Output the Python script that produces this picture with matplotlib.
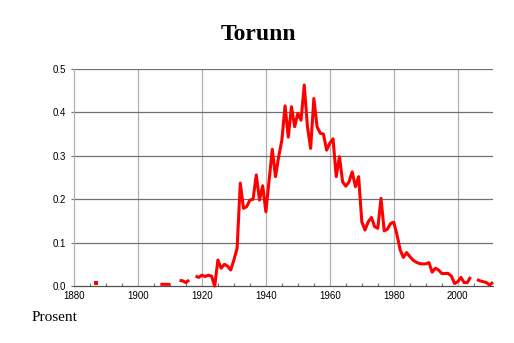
import matplotlib
matplotlib.use("Agg")
import matplotlib.pyplot as plt
import numpy as np

nan = np.nan

# name frequency, per cent, one value per year 1880-2011
years = np.arange(1880, 2012)
values = [
    nan, nan, nan, nan, nan, nan, nan, 0.007, nan, nan,            # 1880-1889
    nan, nan, nan, nan, nan, nan, nan, nan, nan, nan,              # 1890-1899
    nan, nan, nan, nan, nan, nan, nan, 0.004, 0.004, 0.004,        # 1900-1909
    0.004, nan, nan, 0.013, 0.012, 0.008, 0.014, nan, 0.023, 0.020,  # 1910-1919
    0.025, 0.022, 0.025, 0.023, 0.000, 0.060, 0.041, 0.050, 0.046, 0.037,  # 1920-1929
    0.060, 0.087, 0.237, 0.179, 0.183, 0.198, 0.200, 0.256, 0.198, 0.231,  # 1930-1939
    0.171, 0.244, 0.315, 0.252, 0.298, 0.336, 0.415, 0.343, 0.413, 0.367,  # 1940-1949
    0.398, 0.382, 0.463, 0.367, 0.317, 0.432, 0.367, 0.352, 0.350, 0.313,  # 1950-1959
    0.329, 0.339, 0.252, 0.298, 0.240, 0.230, 0.240, 0.263, 0.229, 0.252,  # 1960-1969
    0.148, 0.129, 0.148, 0.158, 0.137, 0.133, 0.202, 0.127, 0.131, 0.144,  # 1970-1979
    0.147, 0.118, 0.083, 0.066, 0.077, 0.068, 0.060, 0.055, 0.052, 0.051,  # 1980-1989
    0.051, 0.054, 0.032, 0.041, 0.037, 0.029, 0.029, 0.029, 0.023, 0.006,  # 1990-1999
    0.010, 0.020, 0.008, 0.008, 0.021, nan, 0.015, 0.012, 0.010, 0.008,    # 2000-2009
    0.002, 0.009,                                                      # 2010-2011
]
values = np.array(values)

title = "Torunn"
ylabel = "Prosent"
yticks = [0.0, 0.1, 0.2, 0.3, 0.4, 0.5]
xticks = [1880, 1900, 1920, 1940, 1960, 1980, 2000]

fig = plt.figure(figsize=(5.14, 3.43), dpi=100)
ax = fig.add_axes([0.144, 0.166, 0.815, 0.633])

ax.plot(years, values, color="#ff0000", lw=2.2, clip_on=False, zorder=3,
        solid_capstyle="butt")

# single years with no neighbours would not show as a line
iso = [i for i in range(len(values)) if not np.isnan(values[i])
       and (i == 0 or np.isnan(values[i - 1]))
       and (i == len(values) - 1 or np.isnan(values[i + 1]))]
ax.plot(years[iso], values[iso], "s", color="#ff0000", ms=2.2, mew=0, zorder=3)

ax.set_xlim(1880, 2011)
ax.set_ylim(0, 0.5)
ax.set_xticks(xticks)
ax.set_xticks(np.arange(1880, 2012, 5), minor=True)
ax.set_yticks(yticks)
ax.set_yticklabels(["%.1f" % v for v in yticks])

for v in xticks[1:]:
    ax.axvline(v, color="#b0b0b0", lw=0.9, zorder=1)
for v in yticks[1:]:
    ax.axhline(v, color="#707070", lw=0.9, zorder=1)

for s in ["top", "right"]:
    ax.spines[s].set_visible(False)
ax.spines["left"].set_color("#b0b0b0")
ax.spines["left"].set_linewidth(0.9)
ax.spines["bottom"].set_color("#505050")
ax.spines["bottom"].set_linewidth(0.9)

ax.tick_params(axis="x", which="major", length=0, pad=3.5)
ax.tick_params(axis="x", which="minor", direction="in", length=2.5,
               color="#707070", width=0.8)
ax.tick_params(axis="y", length=2, color="#707070", width=0.8, pad=3.5)
for lab in ax.get_xticklabels() + ax.get_yticklabels():
    lab.set_family("Liberation Sans")
    lab.set_fontsize(7)

fig.text(0.502, 0.9, title, ha="center", va="center",
         family="Liberation Serif", fontweight="bold", fontsize=17)
fig.text(0.062, 0.073, ylabel, ha="left", va="center",
         family="Liberation Serif", fontsize=11)

fig.savefig("out.png", dpi=100)
